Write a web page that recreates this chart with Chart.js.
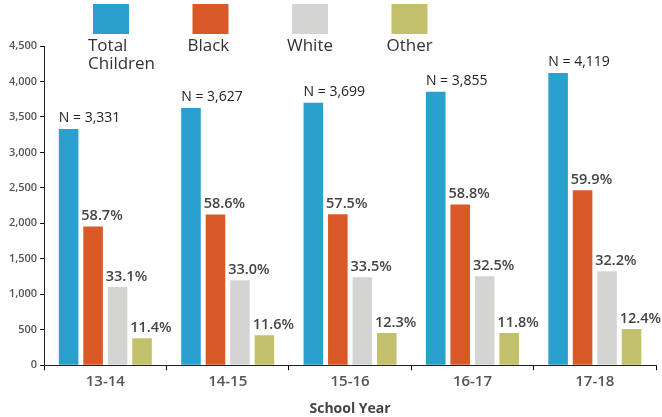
<!DOCTYPE html>
<html><head><meta charset="utf-8">
<script src="https://cdn.jsdelivr.net/npm/chart.js@4"></script>
<style>html,body{margin:0;padding:0;background:#fff}#wrap{width:662px;height:417px;position:relative}</style>
</head><body><div id="wrap"><canvas id="c"></canvas></div>
<script>
const categories = ['13-14','14-15','15-16','16-17','17-18'];
const seriesNames = ['Total\nChildren','Black','White','Other'];
const totalChildren = [3331, 3627, 3699, 3855, 4119];
const black = [1955, 2125, 2127, 2267, 2467];
const white = [1103, 1197, 1239, 1253, 1326];
const other = [380, 421, 455, 455, 511];
const blackPct = [58.7, 58.6, 57.5, 58.8, 59.9];
const whitePct = [33.1, 33.0, 33.5, 32.5, 32.2];
const otherPct = [11.4, 11.6, 12.3, 11.8, 12.4];
const yTicks = [0,500,1000,1500,2000,2500,3000,3500,4000,4500];
const colors = ['#2AA1CC','#D95A28','#D4D5D3','#C3C16B'];

const FONT = '"Open Sans", "Noto Sans", sans-serif';

const barLabels = {
  id: 'barLabels',
  afterDatasetsDraw(chart) {
    const ctx = chart.ctx;
    ctx.save();
    ctx.textBaseline = 'bottom';
    ctx.textAlign = 'left';
    const pcts = [null, blackPct, whitePct, otherPct];
    chart.data.datasets.forEach((ds, di) => {
      const meta = chart.getDatasetMeta(di);
      meta.data.forEach((bar, i) => {
        const left = bar.x - bar.width / 2;
        let txt;
        if (di === 0) {
          ctx.font = '400 14px ' + FONT;
          ctx.fillStyle = '#222';
          txt = 'N = ' + ds.data[i].toLocaleString('en-US');
          ctx.fillText(txt, left, bar.y - 4);
        } else {
          ctx.font = '600 14.5px ' + FONT;
          ctx.fillStyle = '#444';
          txt = pcts[di][i].toFixed(1) + '%';
          ctx.fillText(txt, left - 2, bar.y - 3);
        }
      });
    });
    ctx.restore();
  }
};

const topLegend = {
  id: 'topLegend',
  afterDraw(chart) {
    const ctx = chart.ctx;
    ctx.save();
    const startX = 93, step = 99.5;
    chart.data.datasets.forEach((ds, di) => {
      const x = startX + di * step;
      ctx.fillStyle = ds.backgroundColor;
      ctx.fillRect(x, 4, 36, 30);
      ctx.fillStyle = '#333';
      ctx.font = '400 17px ' + FONT;
      ctx.textAlign = 'left';
      ctx.textBaseline = 'middle';
      ds.label.split('\n').forEach((line, li) => {
        ctx.fillText(line, x - 5, 46 + li * 18);
      });
    });
    ctx.restore();
  }
};

new Chart(document.getElementById('c'), {
  type: 'bar',
  data: {
    labels: categories,
    datasets: [
      {label: seriesNames[0], data: totalChildren, backgroundColor: colors[0]},
      {label: seriesNames[1], data: black, backgroundColor: colors[1]},
      {label: seriesNames[2], data: white, backgroundColor: colors[2]},
      {label: seriesNames[3], data: other, backgroundColor: colors[3]}
    ]
  },
  options: {
    responsive: true,
    maintainAspectRatio: false,
    animation: false,
    devicePixelRatio: 1,
    layout: {padding: {top: 46, right: 6, left: 6, bottom: 0}},
    datasets: {bar: {categoryPercentage: 0.8, barPercentage: 0.8}},
    plugins: {legend: {display: false}, tooltip: {enabled: false}},
    scales: {
      x: {
        grid: {display: true, drawOnChartArea: false, color: '#000', tickLength: 5, offset: true},
        border: {display: true, color: '#222', width: 1},
        ticks: {color: '#555', font: {family: FONT, size: 15, weight: '600'}, padding: 3},
        title: {display: true, text: 'School Year', color: '#444', font: {family: FONT, size: 14, weight: '700'}, padding: {top: 6, bottom: 0}}
      },
      y: {
        min: 0, max: 4500,
        afterBuildTicks(axis) { axis.ticks = yTicks.map(v => ({value: v})); },
        grid: {display: true, drawOnChartArea: false, color: '#000', tickLength: 4},
        border: {display: true, color: '#222', width: 1},
        ticks: {color: '#555', font: {family: FONT, size: 11, weight: '600'}, padding: 3,
          callback: v => v.toLocaleString('en-US')}
      }
    }
  },
  plugins: [barLabels, topLegend]
});
</script></body></html>
